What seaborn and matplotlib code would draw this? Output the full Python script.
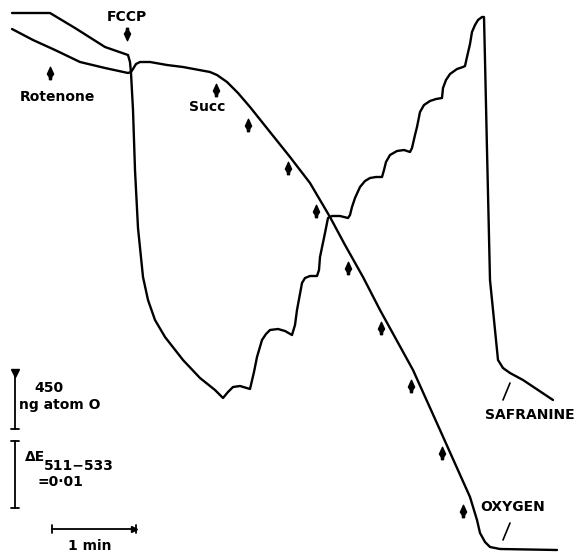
import numpy as np
import pandas as pd
import matplotlib
matplotlib.use('Agg')
import matplotlib.pyplot as plt
from matplotlib.path import Path
import seaborn as sns

# Traces (x: time, y: pen position, both in chart units)
safranine_x = [12, 50, 75, 105, 128, 130, 131, 133, 135, 138, 143, 148, 155, 165, 183, 200, 215, 223,
               228, 233, 240, 250, 254, 257, 262, 266, 270, 278, 285, 292, 295, 297, 302, 305, 310, 317,
               319, 320, 325, 328, 332, 340, 348, 350, 352, 355, 360, 365, 370, 376, 382, 384, 386, 390,
               397, 404, 410, 412, 415, 417, 420, 424, 430, 436, 442, 443, 446, 450, 457, 463, 465, 467,
               470, 472, 475, 478, 482, 484, 485, 487, 490, 495, 498, 503, 510, 523, 538, 553]
safranine_y = [13, 13, 28, 47, 55, 62, 73, 110, 170, 228, 277, 300, 320, 337, 360, 378, 390, 398,
               392, 387, 386, 389, 372, 357, 340, 334, 330, 329, 331, 335, 325, 310, 283, 278, 276, 276,
               270, 257, 233, 218, 216, 216, 218, 215, 207, 198, 187, 181, 178, 177, 177, 170, 162, 155,
               151, 150, 152, 148, 135, 127, 112, 105, 101, 99, 98, 88, 80, 74, 69, 67, 66, 57,
               44, 32, 25, 20, 17, 17, 60, 150, 280, 330, 360, 368, 373, 380, 390, 400]

oxygen_x = [12, 33, 55, 80, 105, 128, 131, 133, 136, 140, 150, 167, 183, 210, 217, 227, 238, 250,
            270, 290, 310, 330, 345, 363, 380, 413, 440, 470, 477, 480, 485, 490, 500, 557]
oxygen_y = [29, 40, 50, 62, 68, 73, 72, 69, 64, 62, 62, 65, 67, 72, 75, 82, 93, 107,
            132, 157, 183, 217, 245, 277, 310, 370, 430, 497, 520, 533, 542, 547, 549, 550]

# Additions (arrows)
arrow_x = [50, 216, 248, 288, 316, 348, 381, 411, 442, 463]
arrow_y = [73, 90, 125, 168, 211, 268, 328, 386, 453, 511]
fccp_x, fccp_y = 127, 34

sns.set_style('white')
plt.rcParams['font.family'] = ['DejaVu Sans']
plt.rcParams['text.color'] = 'black'

fig = plt.figure(figsize=(5.76, 5.55), dpi=100)
ax = fig.add_axes([0, 0, 1, 1])

df_s = pd.DataFrame({'x': safranine_x, 'y': safranine_y})
df_o = pd.DataFrame({'x': oxygen_x, 'y': oxygen_y})
sns.lineplot(data=df_s, x='x', y='y', sort=False, estimator=None, color='black', lw=1.7, ax=ax)
sns.lineplot(data=df_o, x='x', y='y', sort=False, estimator=None, color='black', lw=1.7, ax=ax)

# arrow glyph: spade-like head with a short stub
verts = [(0, 1), (0.5, -0.1), (0.2, -0.55), (0.16, -1), (-0.16, -1), (-0.2, -0.55), (-0.5, -0.1), (0, 1)]
codes = [Path.MOVETO] + [Path.LINETO] * 6 + [Path.CLOSEPOLY]
up_arrow = Path(verts, codes)
down_arrow = Path([(vx, -vy) for vx, vy in verts], codes)
ax.scatter(arrow_x, arrow_y, marker=up_arrow, s=80, color='black', zorder=3)
ax.scatter([fccp_x], [fccp_y], marker=down_arrow, s=80, color='black', zorder=3)

# scale bars
ax.plot([15, 15], [372, 429], color='black', lw=1.3)
ax.plot([15], [373], marker='v', ms=6, color='black')
ax.plot([11, 19], [429, 429], color='black', lw=1.3)
ax.plot([15, 15], [441, 508], color='black', lw=1.3)
ax.plot([11, 19], [441, 441], color='black', lw=1.3)
ax.plot([11, 19], [508, 508], color='black', lw=1.3)
ax.plot([52, 136], [529, 529], color='black', lw=1.3)
ax.plot([52, 52], [525, 533], color='black', lw=1.3)
ax.plot([136, 136], [525, 533], color='black', lw=1.3)
ax.plot([134], [529], marker='>', ms=5, color='black')

# leader lines for trace labels
ax.plot([510, 503], [383, 400], color='black', lw=1.2)
ax.plot([510, 503], [523, 540], color='black', lw=1.2)

tk = dict(fontsize=10, fontweight='bold', color='black', ha='center', va='center')
ax.text(127, 17, 'FCCP', **tk)
ax.text(57, 97, 'Rotenone', **tk)
ax.text(207, 107, 'Succ', **tk)
ax.text(49, 388, '450', **tk)
ax.text(60, 405, 'ng atom O', **tk)
ax.text(25, 457, 'ΔE', fontsize=10, fontweight='bold', color='black', ha='left', va='center')
ax.text(44, 466, '511−533', fontsize=10, fontweight='bold', color='black', ha='left', va='center')
ax.text(60, 482, '=0·01', **tk)
ax.text(90, 546, '1 min', **tk)
ax.text(530, 415, 'SAFRANINE', **tk)
ax.text(513, 507, 'OXYGEN', **tk)

ax.set_xlim(0, 576)
ax.set_ylim(555, 0)
ax.set_axis_off()

plt.savefig('out.png', dpi=100)
